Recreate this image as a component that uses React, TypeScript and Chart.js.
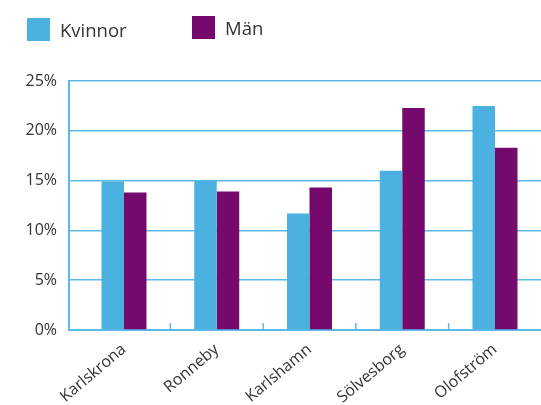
import React, { useEffect, useRef } from "react";
import { Chart, registerables } from "chart.js";

Chart.register(...registerables);

const categories = ["Karlskrona", "Ronneby", "Karlshamn", "Sölvesborg", "Olofström"];
const kvinnor = [14.9, 15.0, 11.7, 16.0, 22.5];
const man = [13.8, 13.9, 14.3, 22.3, 18.3];
const yTicks = [0, 5, 10, 15, 20, 25];

const BLUE = "#4AB1E1";
const PURPLE = "#760A6C";
const GRID = "#5DB9E7";
const FONT = "'Open Sans', 'Noto Sans', sans-serif";

const boundaryTicks = {
  id: "boundaryTicks",
  afterDatasetsDraw(chart: any) {
    const x = chart.scales.x;
    const y = chart.scales.y;
    const ctx = chart.ctx;
    const base = y.getPixelForValue(0);
    ctx.save();
    ctx.strokeStyle = GRID;
    ctx.lineWidth = 1.5;
    for (let i = 0; i < categories.length - 1; i++) {
      const px = x.getPixelForValue(i + 0.5);
      ctx.beginPath();
      ctx.moveTo(px, base);
      ctx.lineTo(px, base - 7);
      ctx.stroke();
    }
    ctx.restore();
  },
};

export default function App() {
  const ref = useRef<HTMLCanvasElement>(null);
  useEffect(() => {
    const chart = new Chart(ref.current!, {
      type: "bar",
      data: {
        datasets: [
          {
            label: "Kvinnor",
            data: kvinnor.map((v, i) => ({ x: i, y: v })),
            backgroundColor: BLUE,
          },
          {
            label: "Män",
            data: man.map((v, i) => ({ x: i, y: v })),
            backgroundColor: PURPLE,
          },
        ],
      },
      options: {
        animation: false,
        responsive: false,
        maintainAspectRatio: false,
        layout: { padding: { top: 81, left: 0, right: 0, bottom: 0 } },
        plugins: { legend: { display: false }, tooltip: { enabled: false } },
        datasets: { bar: { categoryPercentage: 0.485, barPercentage: 1.0 } },
        scales: {
          x: {
            type: "linear",
            offset: false,
            bounds: "data",
            min: -0.593,
            max: 4.496,
            afterBuildTicks: (scale: any) => {
              scale.ticks = categories.map((_, i) => ({ value: i }));
            },
            afterFit: (scale: any) => {
              scale.height = 75;
            },
            grid: { display: false, drawTicks: false },
            border: { display: true, color: GRID, width: 2 },
            ticks: {
              autoSkip: false,
              minRotation: 40,
              maxRotation: 40,
              padding: 10,
              color: "#333333",
              font: { family: FONT, size: 16 },
              callback: (v: any) => categories[v] ?? "",
            },
          },
          y: {
            min: 0,
            max: 25,
            afterBuildTicks: (scale: any) => {
              scale.ticks = yTicks.map((v) => ({ value: v }));
            },
            afterFit: (scale: any) => {
              scale.width = 69;
            },
            grid: { color: GRID, lineWidth: 1.5, drawTicks: false },
            border: { display: true, color: GRID, width: 2 },
            ticks: {
              padding: 12,
              color: "#333333",
              font: { family: FONT, size: 16 },
              callback: (v: any) => v + "%",
            },
          },
        },
      },
      plugins: [boundaryTicks],
    });
    return () => chart.destroy();
  }, []);

  const legendItem = (color: string, label: string, left: number, top: number) => (
    <div style={{ position: "absolute", left, top, display: "flex", alignItems: "center" }}>
      <div style={{ width: 23, height: 23, background: color }} />
      <span
        style={{
          marginLeft: 10,
          fontFamily: FONT,
          fontSize: 18.5,
          color: "#333333",
          lineHeight: "23px",
        }}
      >
        {label}
      </span>
    </div>
  );

  return (
    <div style={{ position: "fixed", left: 0, top: 0, width: 541, height: 405, background: "#fff" }}>
      <canvas ref={ref} width={541} height={405} style={{ position: "absolute", left: 0, top: 0 }} />
      {legendItem(BLUE, "Kvinnor", 27, 18)}
      {legendItem(PURPLE, "Män", 192, 16)}
    </div>
  );
}
